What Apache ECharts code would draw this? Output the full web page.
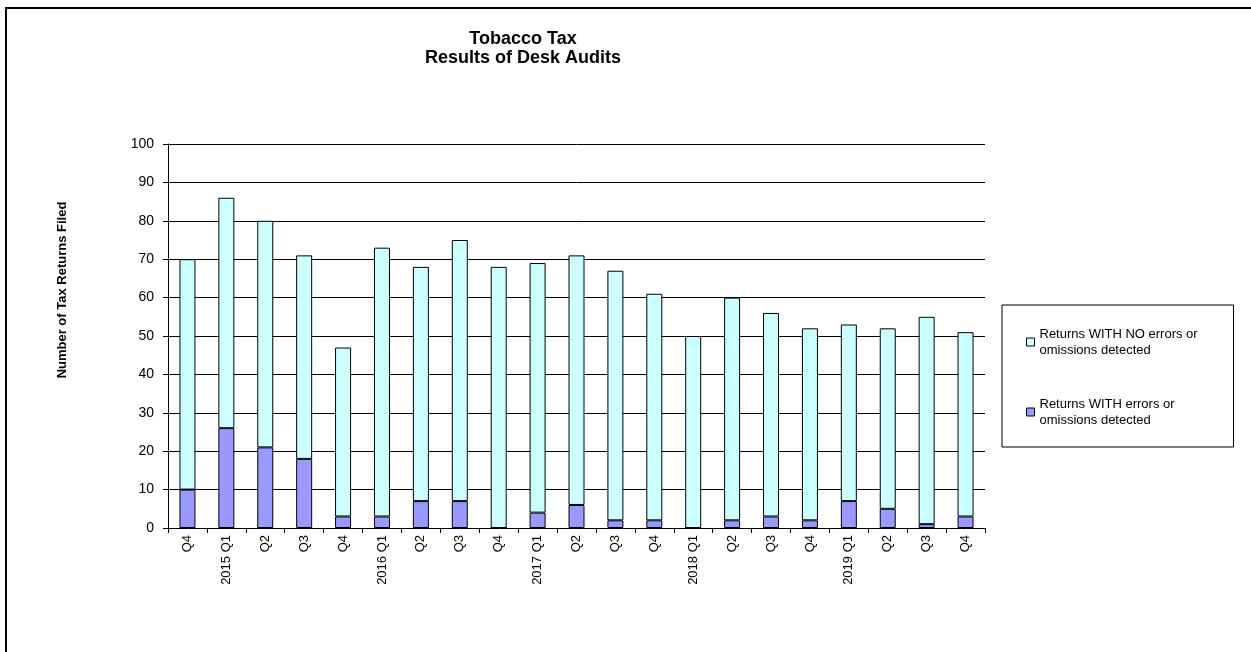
<!DOCTYPE html>
<html>
<head>
<meta charset="utf-8">
<script src="https://cdn.jsdelivr.net/npm/echarts@6/dist/echarts.min.js"></script>
<style>
  html, body { margin: 0; padding: 0; background: #fff; }
  #chart { width: 1251px; height: 652px; }
</style>
</head>
<body>
<div id="chart"></div>
<script>
  var quarters = ['Q4', '2015 Q1', 'Q2', 'Q3', 'Q4', '2016 Q1', 'Q2', 'Q3', 'Q4',
    '2017 Q1', 'Q2', 'Q3', 'Q4', '2018 Q1', 'Q2', 'Q3', 'Q4', '2019 Q1', 'Q2', 'Q3', 'Q4'];
  var withErrors = [10, 26, 21, 18, 3, 3, 7, 7, 0, 4, 6, 2, 2, 0, 2, 3, 2, 7, 5, 1, 3];
  var withoutErrors = [60, 60, 59, 53, 44, 70, 61, 68, 68, 65, 65, 65, 59, 50, 58, 53, 50, 46, 47, 54, 48];
  var yTicks = [0, 100, 10];

  var nameNo = 'Returns WITH NO errors or\nomissions detected';
  var nameYes = 'Returns WITH errors or\nomissions detected';
  var font = 'Liberation Sans, Arial, sans-serif';

  var chart = echarts.init(document.getElementById('chart'));
  chart.setOption({
    animation: false,
    textStyle: { fontFamily: font, color: '#000' },
    title: {
      text: 'Tobacco Tax\nResults of Desk Audits',
      left: 518,
      top: 25,
      textAlign: 'center',
      textStyle: { fontSize: 18, fontWeight: 'bold', lineHeight: 19, color: '#000', fontFamily: font }
    },
    graphic: [{
      type: 'rect',
      shape: { x: 6, y: 8, width: 1400, height: 800 },
      style: { fill: 'none', stroke: '#000', lineWidth: 2 },
      silent: true
    }],
    legend: {
      orient: 'vertical',
      left: 1002,
      top: 305,
      data: [nameNo, nameYes],
      icon: 'rect',
      itemWidth: 8,
      itemHeight: 8,
      itemGap: 38,
      padding: [21, 14, 19, 24],
      borderColor: '#000',
      borderWidth: 1,
      textStyle: { fontSize: 13, lineHeight: 16, width: 180, color: '#000', fontFamily: font },
      itemStyle: { borderColor: '#000', borderWidth: 1 }
    },
    grid: { left: 168, right: 266, top: 144, bottom: 124, containLabel: false },
    xAxis: {
      type: 'category',
      data: quarters,
      axisLine: { lineStyle: { color: '#000', width: 1 } },
      axisTick: { show: true, interval: 0, length: 5, lineStyle: { color: '#000' } },
      axisLabel: { interval: 0, rotate: 90, fontSize: 13, margin: 7, color: '#000' }
    },
    yAxis: {
      type: 'value',
      min: yTicks[0],
      max: yTicks[1],
      interval: yTicks[2],
      name: 'Number of Tax Returns Filed',
      nameLocation: 'middle',
      nameGap: 99,
      nameRotate: 90,
      nameTextStyle: { fontSize: 13, fontWeight: 'bold', color: '#000', padding: [0, 0, 0, 92] },
      axisLine: { show: true, lineStyle: { color: '#000', width: 1 } },
      axisTick: { show: true, length: 5, lineStyle: { color: '#000' } },
      axisLabel: { fontSize: 14, margin: 14, color: '#000' },
      splitLine: { lineStyle: { color: '#000', width: 1 } }
    },
    series: [{
      name: nameYes,
      type: 'bar',
      stack: 'total',
      barWidth: 16,
      data: withErrors,
      itemStyle: { color: '#9999ff', borderColor: '#000', borderWidth: 1 }
    }, {
      name: nameNo,
      type: 'bar',
      stack: 'total',
      barWidth: 16,
      data: withoutErrors,
      itemStyle: { color: '#ccffff', borderColor: '#000', borderWidth: 1 }
    }]
  });
</script>
</body>
</html>
